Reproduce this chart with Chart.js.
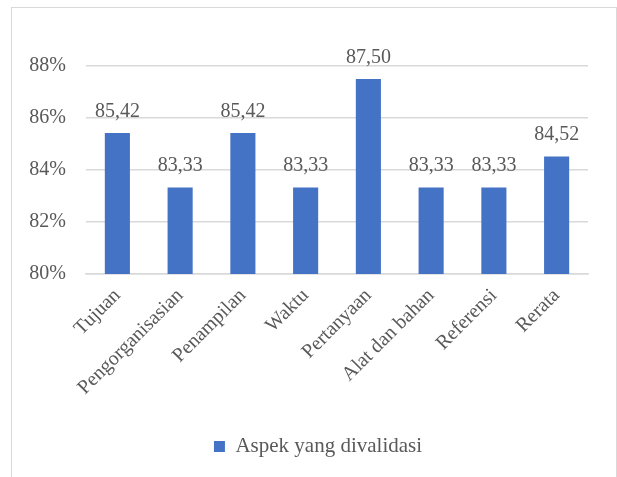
<!DOCTYPE html>
<html>
<head>
<meta charset="utf-8">
<script src="https://cdn.jsdelivr.net/npm/chart.js@4.4.1/dist/chart.umd.min.js"></script>
<style>
  html, body { margin: 0; padding: 0; background: #fff; }
  #wrap { position: relative; width: 617px; height: 477px; overflow: hidden; }
  #frame {
    position: absolute; left: 11px; top: 7px; width: 604px; height: 500px;
    border: 1px solid #d9d9d9;
  }
  #chart { position: absolute; left: 0; top: 0; }
</style>
</head>
<body>
<div id="wrap">
  <div id="frame"></div>
  <canvas id="chart" width="617" height="477"></canvas>
</div>
<script>
  const categories = ['Tujuan', 'Pengorganisasian', 'Penampilan', 'Waktu', 'Pertanyaan', 'Alat dan bahan', 'Referensi', 'Rerata'];
  const scores = [85.42, 83.33, 85.42, 83.33, 87.50, 83.33, 83.33, 84.52];
  const seriesName = 'Aspek yang divalidasi';
  const yTicks = [80, 82, 84, 86, 88];

  const textGray = '#595959';

  // pick the first serif face that is really installed
  function pickSerif() {
    const probe = document.createElement('canvas').getContext('2d');
    const sample = 'Pengorganisasian 85,42 Wg';
    const width = fam => { probe.font = '40px ' + fam; return probe.measureText(sample).width; };
    const mono = width('monospace');
    const sans = width('sans-serif');
    const names = ['Liberation Serif', 'Times New Roman', 'Tinos', 'DejaVu Serif', 'Noto Serif'];
    for (const n of names) {
      const w1 = width('"' + n + '", monospace');
      const w2 = width('"' + n + '", sans-serif');
      if (w1 !== mono || w2 !== sans) return '"' + n + '"';
    }
    return 'serif';
  }
  const serif = pickSerif();

  // value labels above every bar, comma as decimal separator
  const valueLabels = {
    id: 'valueLabels',
    afterDatasetsDraw(chart) {
      const ctx = chart.ctx;
      ctx.save();
      ctx.font = '20px ' + serif;
      ctx.fillStyle = textGray;
      ctx.textAlign = 'center';
      ctx.textBaseline = 'alphabetic';
      chart.getDatasetMeta(0).data.forEach((bar, i) => {
        const txt = scores[i].toFixed(2).replace('.', ',');
        ctx.fillText(txt, bar.x, bar.y - 16);
      });
      ctx.restore();
    }
  };

  // nudge the legend a bit right of the canvas centre
  const legendShift = {
    id: 'legendShift',
    afterLayout(chart) {
      const lg = chart.legend;
      if (!lg) return;
      lg.left += 11;
      lg.right += 11;
    }
  };

  new Chart(document.getElementById('chart'), {
    type: 'bar',
    data: {
      labels: categories,
      datasets: [{
        label: seriesName,
        data: scores,
        backgroundColor: '#4472C4',
        borderWidth: 0,
        barPercentage: 0.4,
        categoryPercentage: 1
      }]
    },
    options: {
      responsive: false,
      animation: false,
      layout: { padding: { top: 66, left: 26, right: 29, bottom: 10 } },
      plugins: {
        legend: {
          position: 'bottom',
          labels: {
            boxWidth: 11,
            boxHeight: 11,
            padding: 12,
            color: textGray,
            font: { family: serif, size: 21 }
          }
        },
        tooltip: { enabled: false }
      },
      scales: {
        y: {
          min: 80,
          max: 88,
          afterFit(scale) { scale.width = 60; },
          afterBuildTicks(scale) { scale.ticks = yTicks.map(v => ({ value: v })); },
          ticks: {
            padding: 20,
            color: textGray,
            font: { family: serif, size: 20 },
            callback: v => v + '%'
          },
          grid: { color: '#d9d9d9', lineWidth: 1.5, drawTicks: false },
          border: { display: false }
        },
        x: {
          afterFit(scale) { scale.height = 150; },
          ticks: {
            minRotation: 45,
            maxRotation: 45,
            padding: 10,
            color: textGray,
            font: { family: serif, size: 20 }
          },
          grid: { display: false, drawTicks: false },
          border: { color: '#d9d9d9', width: 1.5 }
        }
      }
    },
    plugins: [valueLabels, legendShift]
  });
</script>
</body>
</html>
